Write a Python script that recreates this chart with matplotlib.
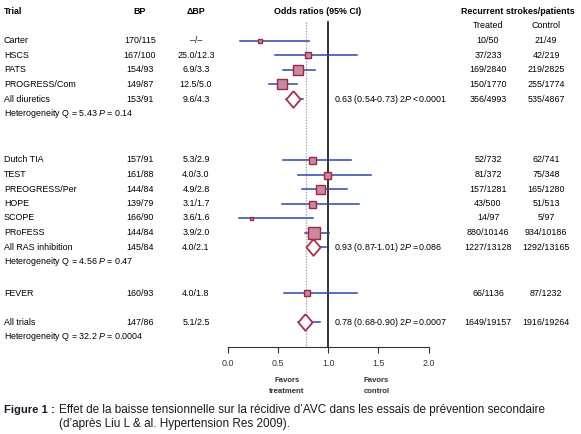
import matplotlib.pyplot as plt
from matplotlib import font_manager

plt.rcParams['font.family'] = ['Liberation Sans', 'DejaVu Sans']
plt.rcParams['mathtext.fontset'] = 'custom'
plt.rcParams['mathtext.rm'] = 'Liberation Sans'
plt.rcParams['mathtext.it'] = 'Liberation Sans:italic'

# data
trials = ["Carter", "HSCS", "PATS", "PROGRESS/Com", "All diuretics",
          "Dutch TIA", "TEST", "PREOGRESS/Per", "HOPE", "SCOPE", "PRoFESS", "All RAS inhibition",
          "FEVER", "All trials"]
bp = ["170/115", "167/100", "154/93", "149/87", "153/91",
      "157/91", "161/88", "144/84", "139/79", "166/90", "144/84", "145/84",
      "160/93", "147/86"]
dbp = ["\u2013/\u2013", "25.0/12.3", "6.9/3.3", "12.5/5.0", "9.6/4.3",
       "5.3/2.9", "4.0/3.0", "4.9/2.8", "3.1/1.7", "3.6/1.6", "3.9/2.0", "4.0/2.1",
       "4.0/1.8", "5.1/2.5"]
treated = ["10/50", "37/233", "169/2840", "150/1770", "356/4993",
           "52/732", "81/372", "157/1281", "43/500", "14/97", "880/10146", "1227/13128",
           "66/1136", "1649/19157"]
control = ["21/49", "42/219", "219/2825", "255/1774", "535/4867",
           "62/741", "75/348", "165/1280", "51/513", "5/97", "934/10186", "1292/13165",
           "87/1232", "1916/19264"]
odds = [0.32, 0.80, 0.70, 0.54, 0.65,
        0.84, 0.99, 0.92, 0.84, 0.23, 0.86, 0.85,
        0.79, 0.77]
ci_lo = [0.12, 0.47, 0.55, 0.41, 0.58,
         0.55, 0.70, 0.74, 0.54, 0.11, 0.77, 0.79,
         0.56, 0.70]
ci_hi = [0.81, 1.29, 0.87, 0.69, 0.75,
         1.23, 1.43, 1.19, 1.31, 0.85, 1.01, 0.98,
         1.29, 0.92]
weight = [4.3, 5.3, 10.7, 9.7, 0,
          7, 7, 9, 7, 3, 12, 0,
          6, 0]
summary = [False, False, False, False, True,
           False, False, False, False, False, False, True,
           False, True]
summary_text = {4: "0.63 (0.54-0.73) 2$\\mathit{P}$ <0.0001",
                11: "0.93 (0.87-1.01) 2$\\mathit{P}$ =0.086",
                13: "0.78 (0.68-0.90) 2$\\mathit{P}$ =0.0007"}
heterogeneity = ["Heterogeneity Q = 5.43 $\\mathit{P}$ = 0.14",
                 "Heterogeneity Q = 4.56 $\\mathit{P}$ = 0.47",
                 "Heterogeneity Q = 32.2 $\\mathit{P}$ = 0.0004"]
overall = 0.78

# layout (pixel rows)
row_y = [40.7, 55.2, 69.8, 84.4, 99.0,
         160.0, 174.6, 189.2, 203.6, 218.0, 232.5, 247.2,
         293.3, 322.3]
het_y = [113.8, 261.7, 336.3]

W, H = 581, 434
fig = plt.figure(figsize=(W / 100, H / 100), dpi=100)
bg = fig.add_axes([0, 0, 1, 1])
bg.set_xlim(0, W)
bg.set_ylim(H, 0)
bg.axis('off')

fs = 6.4
bg.text(4, 11.7, "Trial", fontsize=fs, fontweight='bold', va='center')
bg.text(140, 11.7, "BP", fontsize=fs, fontweight='bold', va='center', ha='center')
bg.text(196, 11.7, "\u0394BP", fontsize=fs, fontweight='bold', va='center', ha='center')
bg.text(318, 11.7, "Odds ratios (95% CI)", fontsize=fs, fontweight='bold', va='center', ha='center')
bg.text(518, 11.7, "Recurrent strokes/patients", fontsize=fs, fontweight='bold', va='center', ha='center')
bg.text(488, 26, "Treated", fontsize=fs, va='center', ha='center')
bg.text(546, 26, "Control", fontsize=fs, va='center', ha='center')

for i, y in enumerate(row_y):
    bg.text(4, y, trials[i], fontsize=fs, va='center')
    bg.text(140, y, bp[i], fontsize=fs, va='center', ha='center')
    bg.text(196, y, dbp[i], fontsize=fs, va='center', ha='center')
    bg.text(488, y, treated[i], fontsize=fs, va='center', ha='center')
    bg.text(546, y, control[i], fontsize=fs, va='center', ha='center')
    if i in summary_text:
        bg.text(334, y, summary_text[i], fontsize=fs, va='center')

for t, y in zip(heterogeneity, het_y):
    bg.text(4, y, t, fontsize=fs, va='center')

# forest axes
x0, x1 = 227.6, 428.6
ytop, ybot = 20, 347
ax = fig.add_axes([x0 / W, 1 - ybot / H, (x1 - x0) / W, (ybot - ytop) / H])
ax.set_xlim(0, 2)
ax.set_ylim(ybot, ytop)
ax.patch.set_alpha(0)
for s in ['top', 'right', 'left']:
    ax.spines[s].set_visible(False)
ax.spines['bottom'].set_linewidth(0.8)
ax.spines['bottom'].set_color('#333333')
ax.set_yticks([])
ax.set_xticks([0, 0.5, 1.0, 1.5, 2.0])
ax.set_xticklabels(["0.0", "0.5", "1.0", "1.5", "2.0"], fontsize=fs, color='#333333')
ax.tick_params(axis='x', length=4, width=0.8, pad=5, color='#333333')

ax.plot([1, 1], [22, ybot], color='#222222', lw=1.3, zorder=1)
ax.plot([overall, overall], [22, ybot], color='#aaaaaa', lw=1.0, ls=(0, (1, 1)), zorder=1)

blue = '#2b48a8'
diamond = [(0, 1), (0.85, 0), (0, -1), (-0.85, 0), (0, 1)]
for i, y in enumerate(row_y):
    ax.plot([ci_lo[i], ci_hi[i]], [y, y], color=blue, lw=1.1, zorder=2, clip_on=False)
    if summary[i]:
        ax.plot(odds[i], y, marker=diamond, markersize=12, markerfacecolor='white',
                markeredgecolor='#a8304f', markeredgewidth=1.3, zorder=3, clip_on=False)
    else:
        ax.plot(odds[i], y, marker='s', markersize=weight[i] * 0.72,
                markerfacecolor='#c98a9f', markeredgecolor='#9e2648',
                markeredgewidth=1.0, zorder=3, clip_on=False)

for xv, lines in [(0.59, ["Favors", "treatment"]), (1.48, ["Favors", "control"])]:
    for yv, t in zip([380, 391.5], lines):
        ax.text(xv, yv, t, fontsize=5.6, fontweight='bold', ha='center', va='center', color='#333333')

# caption
cap_font = 'Liberation Sans Narrow'
names = {f.name for f in font_manager.fontManager.ttflist}
if cap_font not in names:
    cap_font = 'Liberation Sans'
cap_fs = 8.45
bg.text(4, 410, "Figure 1 :", fontsize=cap_fs - 0.3, fontweight='bold', family=[cap_font, 'DejaVu Sans'],
        va='center', color='#1a1a2a')
bg.text(59, 410, "Effet de la baisse tensionnelle sur la r\u00e9cidive d\u2019AVC dans les essais de pr\u00e9vention secondaire",
        fontsize=cap_fs, family=[cap_font, 'DejaVu Sans'], va='center', color='#1a1a1a')
bg.text(59, 423.5, "(d\u2019apr\u00e8s Liu L & al. Hypertension Res 2009).",
        fontsize=cap_fs, family=[cap_font, 'DejaVu Sans'], va='center', color='#1a1a1a')

fig.savefig("out.png", dpi=100)
